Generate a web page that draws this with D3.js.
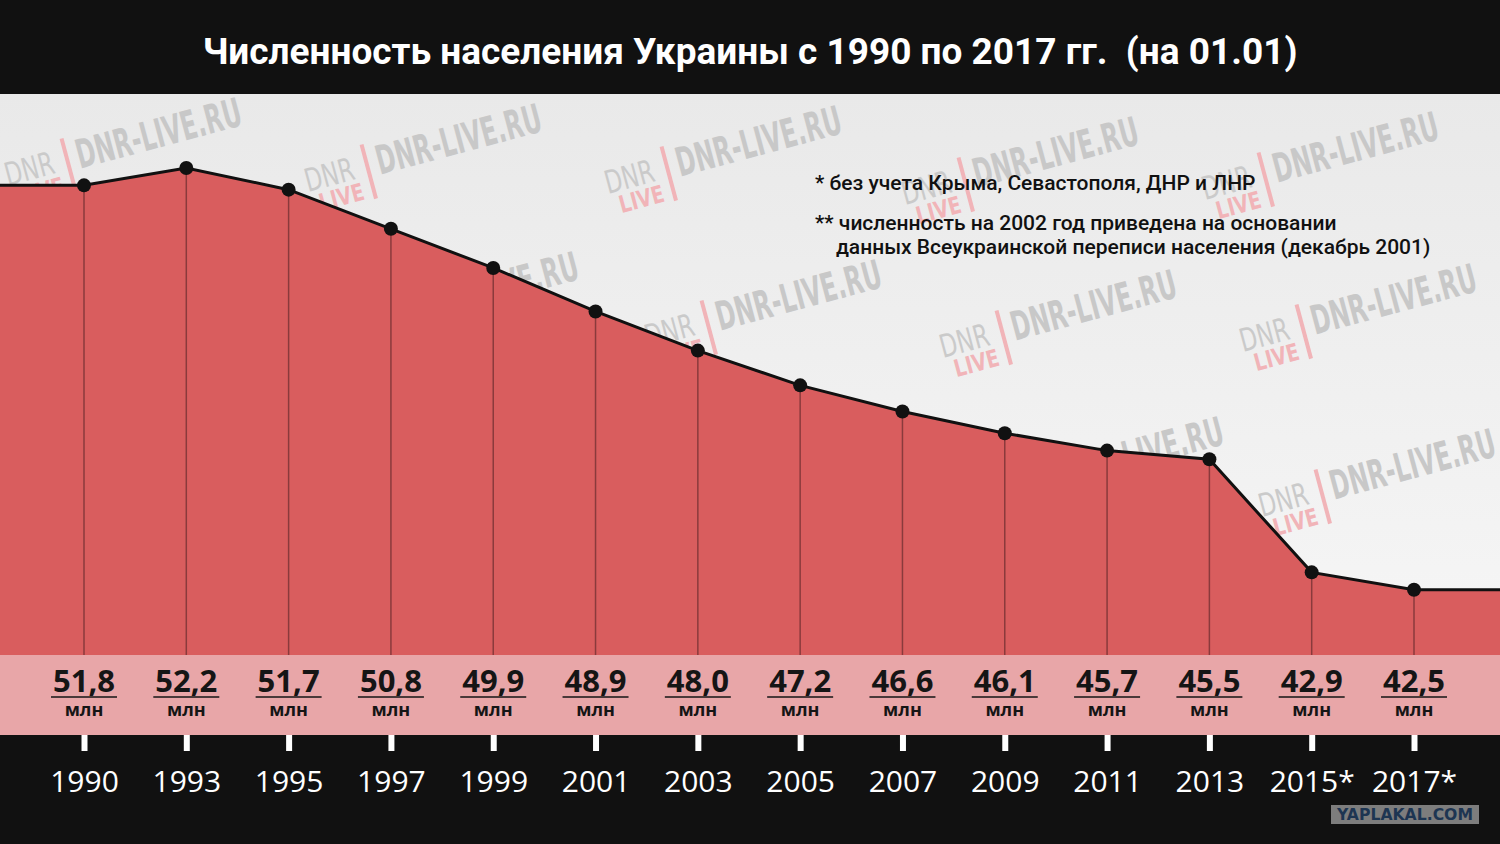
<!DOCTYPE html>
<html>
<head>
<meta charset="utf-8">
<script src="https://cdn.jsdelivr.net/npm/d3@7"></script>
<style>
    body { margin: 0; background: #111; }
    svg { display: block; }
</style>
</head>
<body>
<script>
// data
const years = ['1990', '1993', '1995', '1997', '1999', '2001', '2003', '2005', '2007', '2009', '2011', '2013', '2015*', '2017*'];
const population = [51.8, 52.2, 51.7, 50.8, 49.9, 48.9, 48.0, 47.2, 46.6, 46.1, 45.7, 45.5, 42.9, 42.5];
const title = 'Численность населения Украины с 1990 по 2017 гг.  (на 01.01)';
const notes = [
    '* без учета Крыма, Севастополя, ДНР и ЛНР',
    '** численность на 2002 год приведена на основании',
    '    данных Всеукраинской переписи населения (декабрь 2001)'
];
const watermarks = [[8, 186], [308, 192], [608, 194], [905, 205], [1205, 200], [345, 340], [648, 348], [943, 358], [1243, 352], [990, 505], [1262, 517]];

const svgWidth = 1500;
const svgHeight = 844;

const config = {
    titleH: 94,
    plotBottom: 655,
    bandBottom: 735,
    xFirst: 84,
    xLast: 1414
}

window.onload = main;

function main() {
    const data = years.map((y, i) => ({year: y, value: population[i]}));

    const svg = d3.select('body').append('svg')
        .attr('width', svgWidth)
        .attr('height', svgHeight);

    const defs = svg.append('defs');
    const grad = defs.append('linearGradient')
        .attr('id', 'bg')
        .attr('x1', 0).attr('y1', 0).attr('x2', 0).attr('y2', 1);
    grad.append('stop').attr('offset', '0%').attr('stop-color', '#e9e9e9');
    grad.append('stop').attr('offset', '100%').attr('stop-color', '#f6f6f6');

    // backgrounds
    svg.append('rect').attr('width', svgWidth).attr('height', svgHeight).attr('fill', '#111111');
    svg.append('rect')
        .attr('y', config.titleH)
        .attr('width', svgWidth)
        .attr('height', config.plotBottom - config.titleH)
        .attr('fill', 'url(#bg)');

    // title
    svg.append('text')
        .attr('x', svgWidth / 2)
        .attr('y', 64)
        .attr('text-anchor', 'middle')
        .attr('fill', '#fff')
        .style('font-family', 'Roboto, sans-serif')
        .style('font-weight', 700)
        .style('font-size', '37px')
        .attr('xml:space', 'preserve')
        .text(title);

    // watermarks (behind the area)
    const wm = svg.append('g').classed('watermarks', true)
        .style('font-family', '"Liberation Sans Narrow", "DejaVu Sans Condensed", sans-serif')
        .style('font-weight', 700);
    watermarks.forEach(([x, y]) => {
        const g = wm.append('g').attr('transform', `translate(${x},${y}) rotate(-15)`);
        g.append('text').attr('x', 0).attr('y', 0)
            .attr('fill', '#cacaca').style('font-weight', 400).style('font-size', '32px')
            .attr('textLength', 50).attr('lengthAdjust', 'spacingAndGlyphs').text('DNR');
        g.append('text').attr('x', 8).attr('y', 22)
            .attr('fill', '#f1b4b8').style('font-size', '24px')
            .attr('textLength', 46).attr('lengthAdjust', 'spacingAndGlyphs').text('LIVE');
        g.append('rect').attr('x', 62).attr('y', -32).attr('width', 4).attr('height', 56).attr('fill', '#f1b4b8');
        g.append('text').attr('x', 74).attr('y', 2)
            .attr('fill', '#c8c8c8').style('font-size', '40px')
            .attr('textLength', 170).attr('lengthAdjust', 'spacingAndGlyphs').text('DNR-LIVE.RU');
    });

    // scales
    const scaleX = d3.scalePoint()
        .domain(years)
        .range([config.xFirst, config.xLast]);

    const scaleY = d3.scaleLinear()
        .domain([41.0, 53.9])
        .range([config.plotBottom, config.titleH]);

    // extend the area flat to both edges
    const first = data[0], last = data[data.length - 1];
    const pts = [[0, scaleY(first.value)]]
        .concat(data.map(d => [scaleX(d.year), scaleY(d.value)]))
        .concat([[svgWidth, scaleY(last.value)]]);

    svg.append('path')
        .attr('d', d3.area().x(d => d[0]).y0(config.plotBottom).y1(d => d[1])(pts))
        .attr('fill', '#d95d5e');

    // drop lines
    svg.append('g').selectAll('line')
        .data(data)
        .join('line')
        .attr('x1', d => scaleX(d.year))
        .attr('x2', d => scaleX(d.year))
        .attr('y1', d => scaleY(d.value))
        .attr('y2', config.plotBottom)
        .attr('stroke', '#8a3a3c')
        .attr('stroke-width', 1.5);

    svg.append('path')
        .attr('d', d3.line().x(d => d[0]).y(d => d[1])(pts))
        .attr('fill', 'none')
        .attr('stroke', '#111')
        .attr('stroke-width', 3);

    svg.append('g').selectAll('circle')
        .data(data)
        .join('circle')
        .attr('cx', d => scaleX(d.year))
        .attr('cy', d => scaleY(d.value))
        .attr('r', 7)
        .attr('fill', '#111');

    // notes
    const gNotes = svg.append('g')
        .style('font-family', 'Roboto, sans-serif')
        .style('font-weight', 500)
        .style('font-size', '21px')
        .attr('fill', '#111');
    gNotes.append('text').attr('x', 815).attr('y', 190).text(notes[0]);
    gNotes.append('text').attr('x', 815).attr('y', 230).text(notes[1]);
    gNotes.append('text').attr('x', 815).attr('y', 254).attr('xml:space', 'preserve').text(notes[2]);

    // value band
    svg.append('rect')
        .attr('y', config.plotBottom)
        .attr('width', svgWidth)
        .attr('height', config.bandBottom - config.plotBottom)
        .attr('fill', '#e8a6a8');

    const fmt = v => d3.format('.1f')(v).replace('.', ',');
    const labels = svg.append('g').selectAll('g')
        .data(data)
        .join('g')
        .attr('transform', d => `translate(${scaleX(d.year)},0)`);
    labels.append('text')
        .attr('y', 692)
        .attr('text-anchor', 'middle')
        .attr('fill', '#151515')
        .style('font-family', '"Open Sans", sans-serif')
        .style('font-weight', 700)
        .style('font-size', '31px')
        .text(d => fmt(d.value));
    labels.append('line')
        .attr('x1', -33).attr('x2', 33)
        .attr('y1', 697).attr('y2', 697)
        .attr('stroke', '#151515')
        .attr('stroke-width', 1.5);
    labels.append('text')
        .attr('y', 716)
        .attr('text-anchor', 'middle')
        .attr('fill', '#151515')
        .style('font-family', '"Open Sans", sans-serif')
        .style('font-weight', 700)
        .style('font-size', '18px')
        .text('млн');

    // x axis
    const axis = svg.append('g')
        .attr('transform', `translate(0,${config.bandBottom})`)
        .call(d3.axisBottom(scaleX).tickSizeInner(16).tickSizeOuter(0).tickPadding(20));
    axis.select('.domain').remove();
    axis.selectAll('.tick line').attr('stroke', '#fff').attr('stroke-width', 6);
    axis.selectAll('.tick text')
        .attr('fill', '#fff')
        .style('font-family', '"Open Sans", sans-serif')
        .style('font-size', '30px');

    // corner badge
    svg.append('rect')
        .attr('x', 1331).attr('y', 805)
        .attr('width', 148).attr('height', 19)
        .attr('fill', '#7d7d7d');
    svg.append('text')
        .attr('x', 1405).attr('y', 820)
        .attr('text-anchor', 'middle')
        .attr('fill', '#1d3552')
        .style('font-family', '"DejaVu Sans", sans-serif')
        .style('font-weight', 700)
        .style('font-size', '15px')
        .attr('textLength', 136).attr('lengthAdjust', 'spacingAndGlyphs')
        .text('YAPLAKAL.COM');
}
</script>
</body>
</html>
